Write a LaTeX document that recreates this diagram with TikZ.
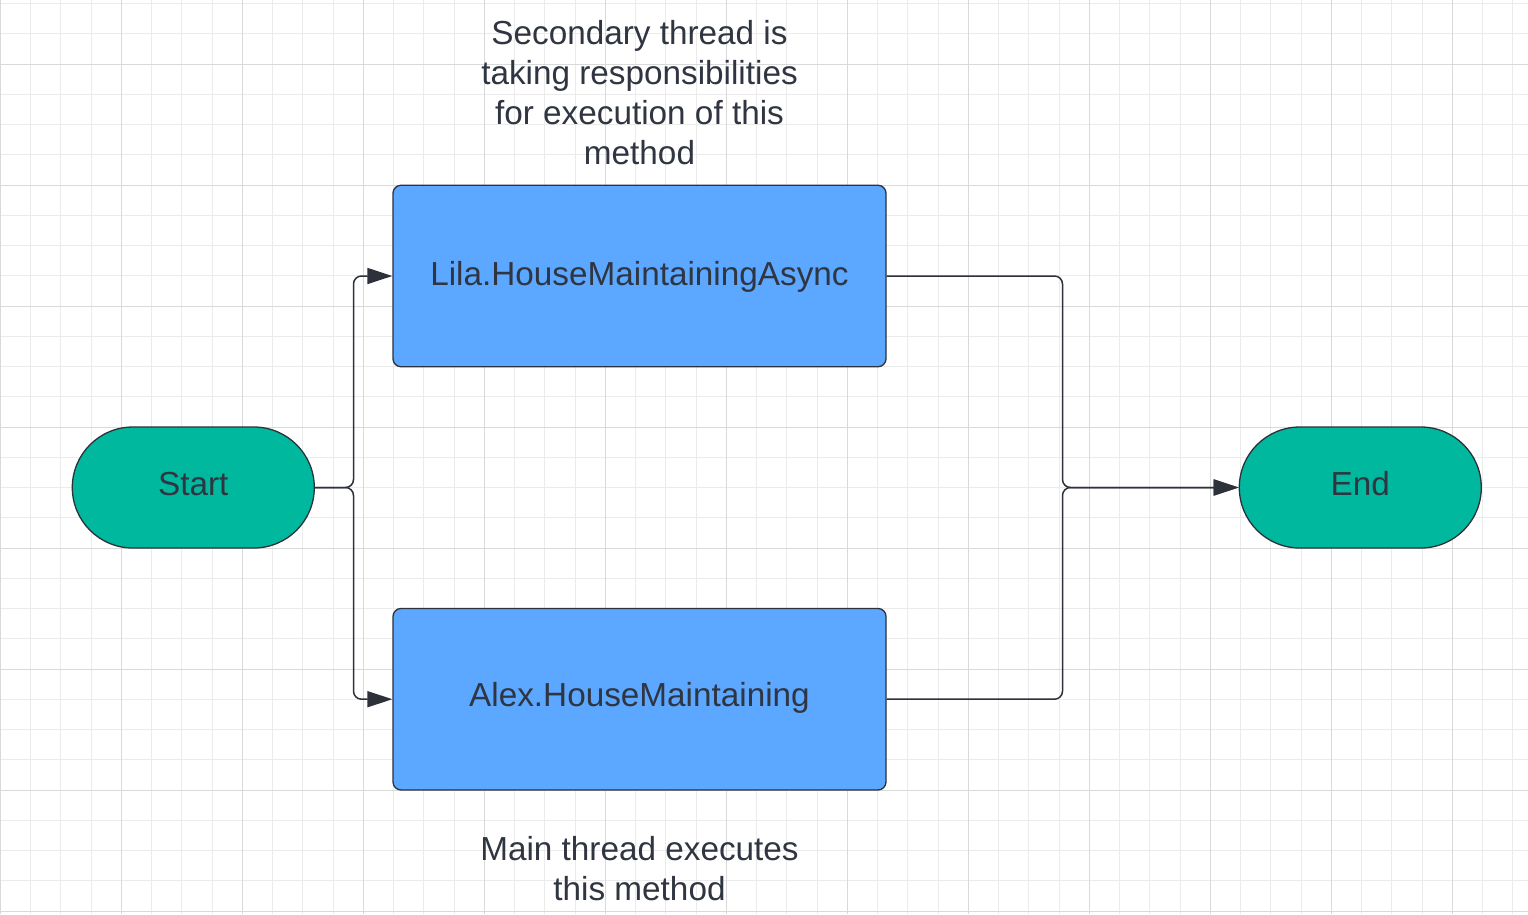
\documentclass[tikz,border=0pt]{standalone}
\usepackage{fontspec}
\setmainfont{Liberation Sans}
\usetikzlibrary{arrows.meta}
\definecolor{gridminor}{HTML}{EBEBEB}
\definecolor{gridmajor}{HTML}{D9D9D9}
\definecolor{termfill}{HTML}{00B89E}
\definecolor{procfill}{HTML}{5CA7FF}
\definecolor{inkdark}{HTML}{2C313A}
\definecolor{txtdark}{HTML}{2F3541}
\tikzset{
  diagfont/.style={font=\fontsize{33.3}{40}\selectfont, text=txtdark},
  terminal/.style={draw=inkdark, line width=1.3pt, fill=termfill, rounded corners=60.5pt,
    minimum width=242pt, minimum height=121pt, inner sep=0pt, diagfont,
    text height=23pt, text depth=7pt},
  process/.style={draw=inkdark, line width=1.3pt, fill=procfill, rounded corners=8pt,
    minimum width=493pt, minimum height=181.5pt, inner sep=0pt, diagfont,
    text height=24pt, text depth=6pt},
  note/.style={diagfont, align=center, inner sep=0pt, anchor=north},
  conn/.style={draw=inkdark, line width=1.5pt, rounded corners=8pt,
    -{Triangle[length=25pt,width=16pt]}},
}
\begin{document}
\begin{tikzpicture}[x=1pt,y=-1pt]
\useasboundingbox (0,0) rectangle (1528,914);
\fill[white] (0,0) rectangle (1528,914);
% grid
\foreach \k [evaluate=\k as \xx using 0.3+30.25*\k] in {0,...,50}
  {\draw[gridminor, line width=1pt] (\xx,0) -- (\xx,914);}
\foreach \k [evaluate=\k as \yy using 3.5+30.25*\k] in {0,...,30}
  {\draw[gridminor, line width=1pt] (0,\yy) -- (1528,\yy);}
\foreach \k [evaluate=\k as \xx using 0.3+121*\k] in {0,...,12}
  {\draw[gridmajor, line width=1pt] (\xx,0) -- (\xx,914);}
\foreach \k [evaluate=\k as \yy using 64+121*\k] in {0,...,7}
  {\draw[gridmajor, line width=1pt] (0,\yy) -- (1528,\yy);}

% nodes
\node[terminal] (start) at (193.3,487.5) {Start};
\node[terminal] (end) at (1360.3,487.5) {End};
\node[process] (lila) at (639.5,276) {Lila.HouseMaintainingAsync};
\node[process, text height=22pt, text depth=8pt] (alex) at (639.5,699.2) {Alex.HouseMaintaining};

\node[note] (secnote) at (639.5,16.5)
  {\strut Secondary thread is\\\strut taking responsibilities\\\strut for execution of this\\\strut method};
\node[note] (mainnote) at (639.5,832.3)
  {\strut Main thread executes\\\strut this method};

% connectors
\coordinate (jl) at (353.5,487.5);
\coordinate (jr) at (1062.5,487.5);
\draw[conn] (start.east) -- (jl) |- (lila.west);
\draw[conn] (start.east) -- (jl) |- (alex.west);
\draw[conn] (lila.east) -| (jr) -- (end.west);
\draw[conn] (alex.east) -| (jr) -- (end.west);
\end{tikzpicture}
\end{document}
